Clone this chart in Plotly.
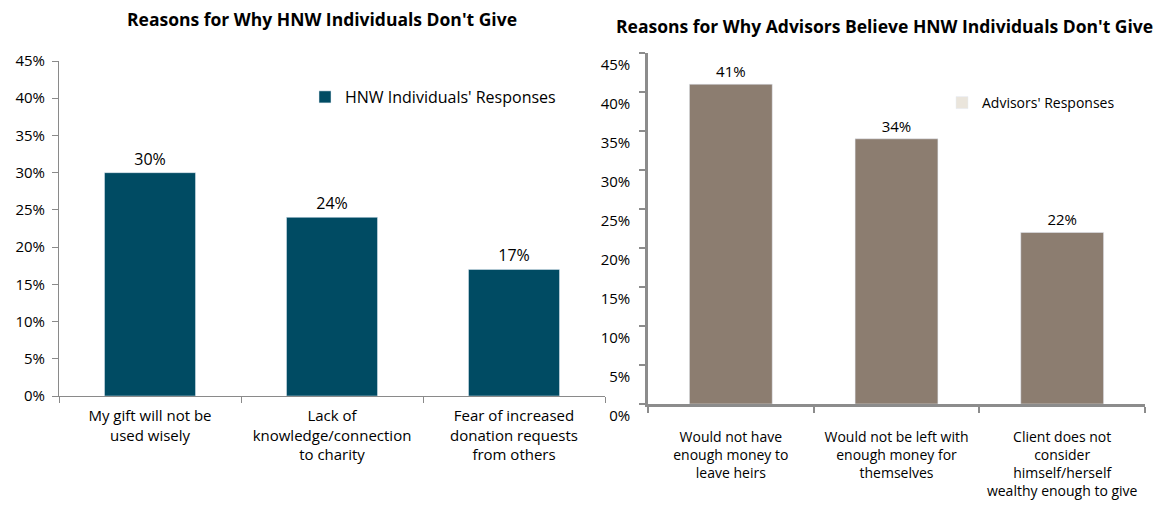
import plotly.graph_objects as go

# ---- data ----
left_title = "Reasons for Why HNW Individuals Don't Give"
left_categories = ["My gift will not be<br>used wisely",
                   "Lack of<br>knowledge/connection<br>to charity",
                   "Fear of increased<br>donation requests<br>from others"]
left_values = [30, 24, 17]
left_series = "HNW Individuals' Responses"

right_title = "Reasons for Why Advisors Believe HNW Individuals Don't Give"
right_categories = ["Would not have<br>enough money to<br>leave heirs",
                    "Would not be left with<br>enough money for<br>themselves",
                    "Client does not<br>consider<br>himself/herself<br>wealthy enough to give"]
right_values = [41, 34, 22]
right_series = "Advisors' Responses"

y_ticks = [0, 5, 10, 15, 20, 25, 30, 35, 40, 45]
y_tick_labels = [f"{v}%" for v in y_ticks]

FONT = "Open Sans"
# the page body has an 8px margin, so the figure fills the rest of the window
OFF = 8
W, H = 1168 - OFF, 508 - OFF

fig = go.Figure()
fig.add_trace(go.Bar(x=left_categories, y=left_values, name=left_series,
                     marker_color="#004B63", width=0.5,
                     text=[f"{v}%" for v in left_values], textposition="outside",
                     textfont=dict(size=16, color="#000"), cliponaxis=False,
                     xaxis="x", yaxis="y", legend="legend"))
fig.add_trace(go.Bar(x=right_categories, y=right_values, name=right_series,
                     marker_color="#8C7D70", width=0.5, showlegend=False,
                     text=[f"{v}%" for v in right_values], textposition="outside",
                     textfont=dict(size=15, color="#000"), cliponaxis=False,
                     xaxis="x2", yaxis="y2"))
# legend entry for the right chart (swatch colour as in the original)
fig.add_trace(go.Bar(x=right_categories, y=[None] * len(right_categories), name=right_series,
                     marker_color="#EAE5DC", xaxis="x2", yaxis="y2", legend="legend2",
                     showlegend=True))

def px_x(p):
    return (p - OFF) / W

def px_y(p):
    return 1 - (p - OFF) / H

axis_font = dict(family=FONT, size=15, color="#000")

fig.update_layout(
    width=W, height=H, margin=dict(l=0, r=0, t=0, b=0, autoexpand=False),
    paper_bgcolor="white", plot_bgcolor="white",
    font=dict(family=FONT, size=15, color="#000"),
    barmode="overlay",
    xaxis=dict(domain=[px_x(59), px_x(605)], type="category",
               showline=True, linecolor="#8A8A8A", linewidth=1,
               ticks="outside", tickson="boundaries", ticklen=6, tickcolor="#8A8A8A",
               tickfont=axis_font, showgrid=False, anchor="y", tickangle=0,
               ticklabelstandoff=6),
    yaxis=dict(domain=[px_y(396), px_y(61)], range=[0, 45], tickvals=y_ticks,
               ticktext=y_tick_labels, showline=True, linecolor="#8A8A8A", linewidth=1,
               ticks="outside", ticklen=6, tickcolor="#8A8A8A", showgrid=False,
               zeroline=False, tickfont=axis_font, anchor="x", ticklabelstandoff=4),
    xaxis2=dict(domain=[px_x(648), px_x(1145)], type="category",
                showline=True, linecolor="#8C8C8C", linewidth=2.5,
                ticks="outside", tickson="boundaries", ticklen=6, tickcolor="#8C8C8C",
                tickwidth=2, tickfont=dict(family=FONT, size=14, color="#000"),
                showgrid=False, anchor="y2", tickangle=0,
                ticklabelstandoff=18),
    yaxis2=dict(domain=[px_y(404), px_y(53)], range=[0, 45], tickvals=y_ticks,
                ticktext=y_tick_labels, showline=True, linecolor="#8C8C8C", linewidth=2.5,
                ticks="outside", ticklen=6, tickcolor="#8C8C8C", tickwidth=2,
                showgrid=False, zeroline=False, tickfont=axis_font, anchor="x2",
                ticklabelshift=12, ticklabelstandoff=6),
    legend=dict(x=px_x(305), y=px_y(97), xanchor="left", yanchor="middle",
                bgcolor="rgba(0,0,0,0)", font=dict(family=FONT, size=16),
                itemwidth=30),
    legend2=dict(x=px_x(942), y=px_y(103), xanchor="left", yanchor="middle",
                 bgcolor="rgba(0,0,0,0)", font=dict(family=FONT, size=14),
                 itemwidth=30),
    annotations=[
        dict(text=f"<b>{left_title}</b>", x=px_x(322), y=px_y(19), xref="paper", yref="paper",
             xanchor="center", yanchor="middle", showarrow=False,
             font=dict(family=FONT, size=17.5)),
        dict(text=f"<b>{right_title}</b>", x=px_x(884), y=px_y(26), xref="paper", yref="paper",
             xanchor="center", yanchor="middle", showarrow=False,
             font=dict(family=FONT, size=17.5)),
    ],
)

fig.write_html("out.html")
